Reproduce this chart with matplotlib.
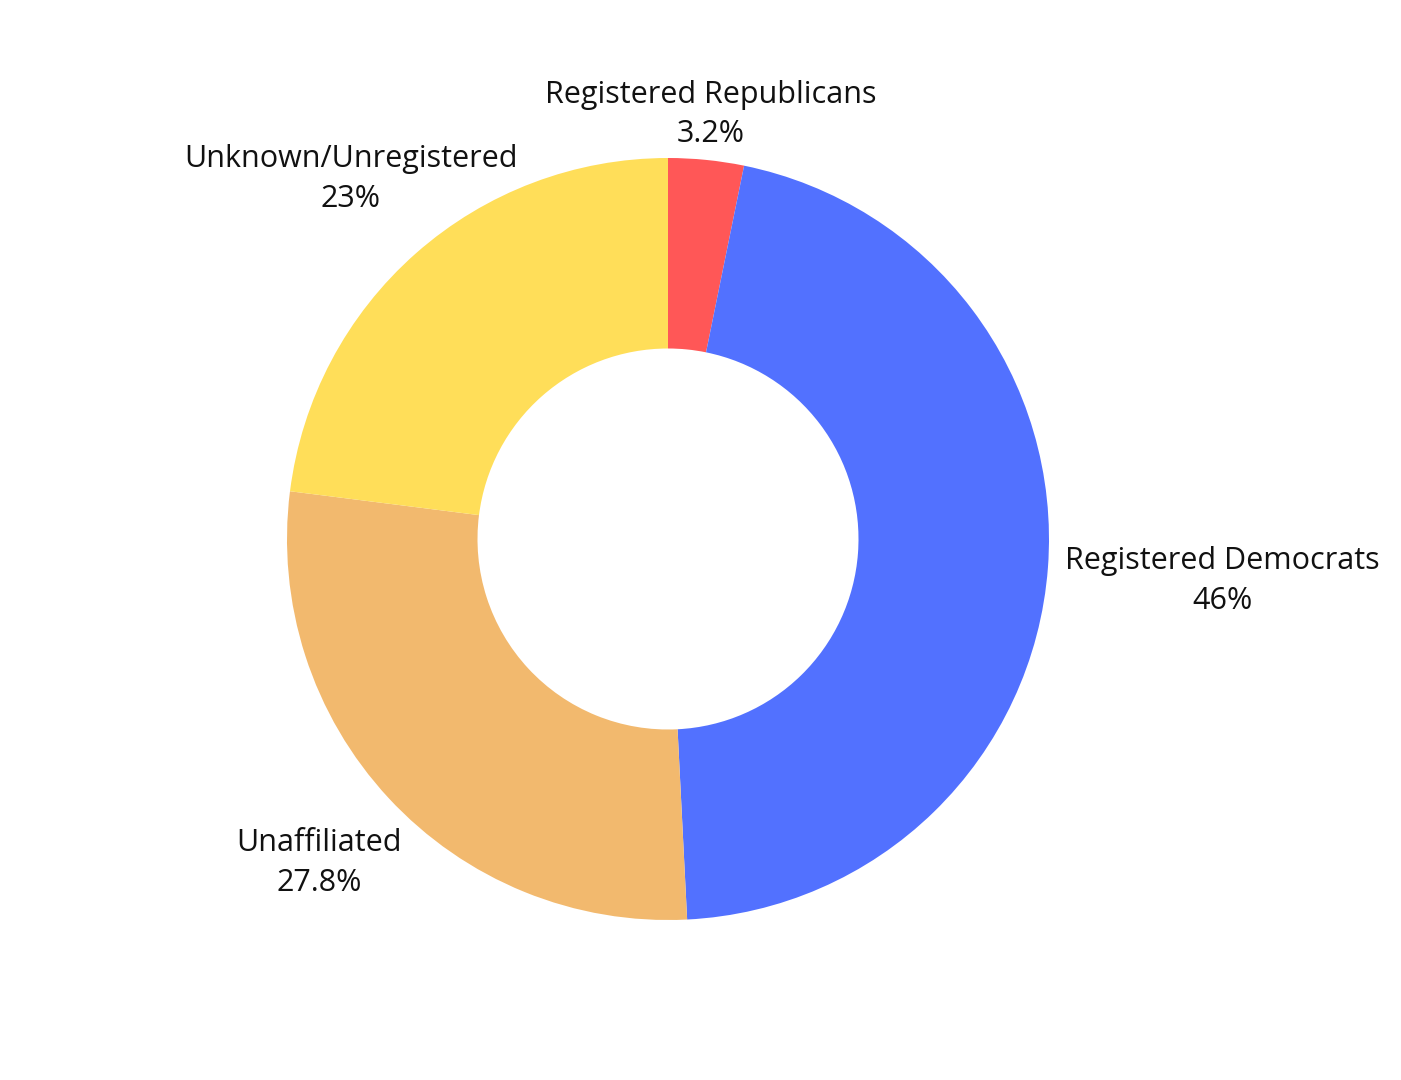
import numpy as np
import matplotlib.pyplot as plt

plt.rcParams['font.family'] = ['Open Sans', 'DejaVu Sans']

LABELS = ['Registered Republicans', 'Registered Democrats', 'Unaffiliated', 'Unknown/Unregistered']
VALUES = [3.2, 46, 27.8, 23]
PCT_TEXT = ['3.2%', '46%', '27.8%', '23%']
COLORS = ['#FF5757', '#5271FF', '#F2B96E', '#FFDE59']
LABEL_R = [1.12, 1.46, 1.25, 1.26]

fig = plt.figure(figsize=(14.01, 10.8), dpi=100)
ax = fig.add_axes([287 / 1401, 160 / 1080, 762 / 1401, 762 / 1080])

wedges, _ = ax.pie(VALUES, colors=COLORS, startangle=90, counterclock=False,
                   radius=1, wedgeprops=dict(width=0.5, edgecolor='none'))
ax.set_xlim(-1, 1)
ax.set_ylim(-1, 1)
ax.set_aspect('equal')

for w, lab, pct, r in zip(wedges, LABELS, PCT_TEXT, LABEL_R):
    ang = np.deg2rad((w.theta1 + w.theta2) / 2)
    ax.text(r * np.cos(ang), r * np.sin(ang), f'{lab}\n{pct}', ha='center', va='center',
            fontsize=22, linespacing=1.42, color='#111111', clip_on=False)

plt.savefig('out.png', dpi=100, facecolor='white')
